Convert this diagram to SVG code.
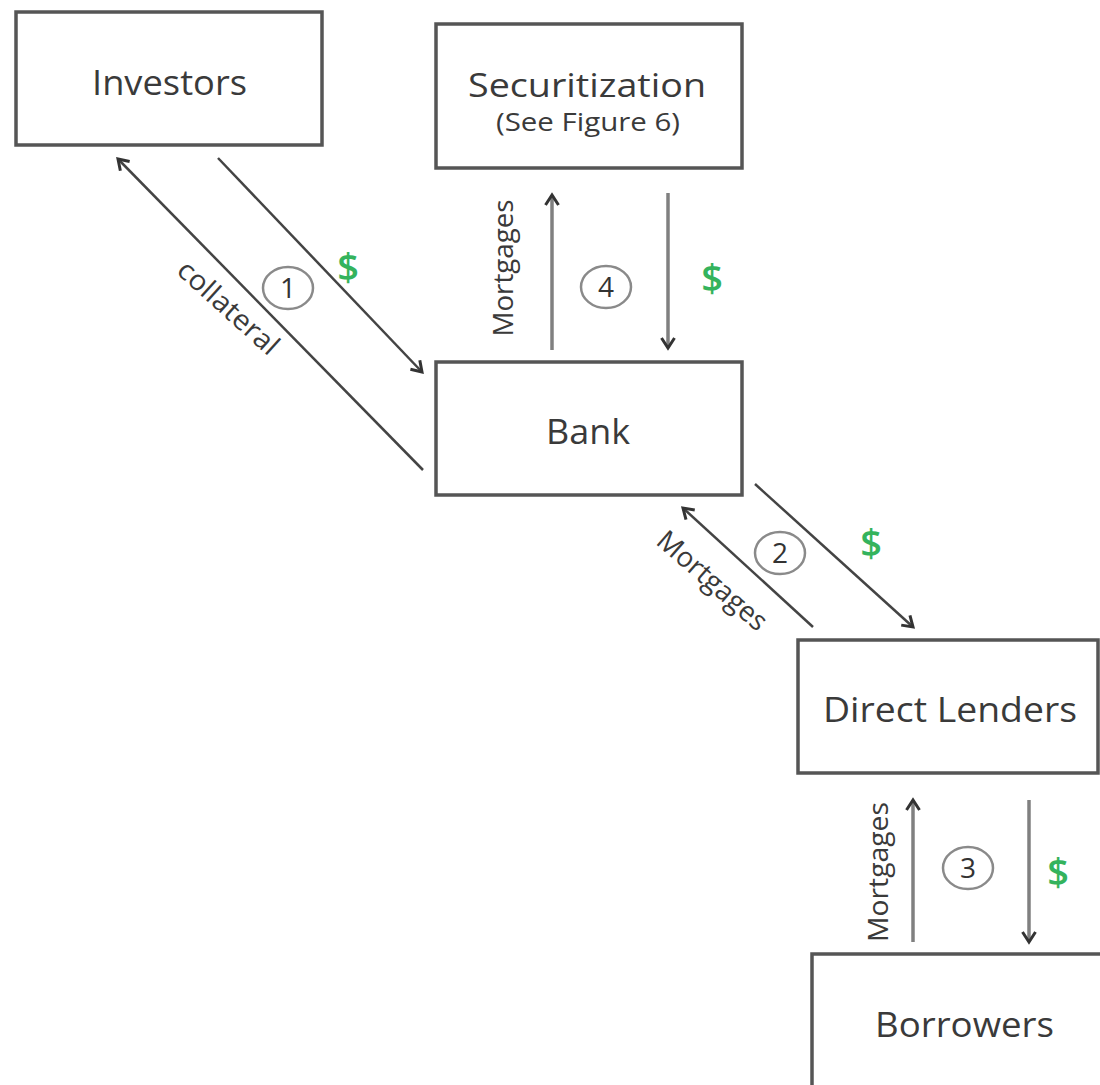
<svg xmlns="http://www.w3.org/2000/svg" width="1100" height="1085" viewBox="0 0 1100 1085">
<style>
.box{fill:#fff;stroke:#555;stroke-width:3.5}
.lbl{font-family:"Open Sans","Liberation Sans",sans-serif;fill:#3a3a3a;text-anchor:middle}
.main{font-size:34px}
.small{font-size:26px}
.side{font-size:28px}
.diag{stroke:#444;stroke-width:2.5;fill:none;marker-end:url(#ah)}
.vert{stroke:#808080;stroke-width:3.5;fill:none;marker-end:url(#ah)}
.circ{fill:none;stroke:#8a8a8a;stroke-width:2.5}
.num{font-family:"Open Sans","Liberation Sans",sans-serif;font-size:28px;fill:#333;text-anchor:middle}
.usd{font-family:"Open Sans","Liberation Sans",sans-serif;font-size:38px;font-weight:600;fill:#34b35d;text-anchor:middle}
</style>
<defs>
<marker id="ah" markerUnits="userSpaceOnUse" markerWidth="24" markerHeight="24" refX="14" refY="9" orient="auto">
<path d="M4,2.5 L14,9 L4,15.5" fill="none" stroke="#333" stroke-width="3"/>
</marker>
</defs>
<g id="investors"><rect class="box" x="16" y="12" width="306" height="133"/><text class="lbl main" x="169.5" y="95" textLength="155" lengthAdjust="spacingAndGlyphs">Investors</text></g>
<g id="securitization"><rect class="box" x="436" y="24" width="306" height="144"/><text class="lbl main" x="587" y="97" style="font-size:32px" textLength="238" lengthAdjust="spacingAndGlyphs">Securitization</text><text class="lbl small" x="588" y="131" textLength="184" lengthAdjust="spacingAndGlyphs">(See Figure 6)</text></g>
<g id="bank"><rect class="box" x="436" y="362" width="306" height="133"/><text class="lbl main" x="588" y="444" textLength="84" lengthAdjust="spacingAndGlyphs">Bank</text></g>
<g id="direct-lenders"><rect class="box" x="798" y="640" width="300" height="133"/><text class="lbl main" x="950" y="722" textLength="254" lengthAdjust="spacingAndGlyphs">Direct Lenders</text></g>
<g id="borrowers"><rect class="box" x="812" y="954" width="320" height="160"/><text class="lbl main" x="964.5" y="1037" textLength="179" lengthAdjust="spacingAndGlyphs">Borrowers</text></g>
<g id="connectors">
<line class="diag" x1="423" y1="470" x2="118" y2="159"/>
<line class="diag" x1="218" y1="158" x2="422" y2="372"/>
<line class="vert" x1="552" y1="350" x2="552" y2="195"/>
<line class="vert" x1="668" y1="193" x2="668" y2="348"/>
<line class="diag" x1="813" y1="627" x2="683" y2="508"/>
<line class="diag" x1="755" y1="484" x2="913" y2="627"/>
<line class="vert" x1="913" y1="942" x2="913" y2="800"/>
<line class="vert" x1="1029" y1="800" x2="1029" y2="942"/>
</g>
<g id="labels">
<text class="lbl side" transform="translate(228,308) rotate(42)" x="0" y="9" textLength="126" lengthAdjust="spacingAndGlyphs">collateral</text>
<text class="lbl side" transform="translate(503,268) rotate(-90)" x="0" y="10" textLength="137" lengthAdjust="spacingAndGlyphs">Mortgages</text>
<text class="lbl side" transform="translate(712,581) rotate(41)" x="0" y="9" textLength="136" lengthAdjust="spacingAndGlyphs">Mortgages</text>
<text class="lbl side" transform="translate(878,872) rotate(-90)" x="0" y="10" textLength="140" lengthAdjust="spacingAndGlyphs">Mortgages</text>
<ellipse class="circ" cx="288" cy="288" rx="25" ry="21"/><text class="num" x="288" y="298">1</text>
<ellipse class="circ" cx="606" cy="287" rx="25" ry="21"/><text class="num" x="606" y="297">4</text>
<ellipse class="circ" cx="780" cy="553" rx="25" ry="21"/><text class="num" x="780" y="563">2</text>
<ellipse class="circ" cx="968" cy="868" rx="25" ry="21"/><text class="num" x="968" y="878">3</text>
<text class="usd" x="348" y="281">$</text>
<text class="usd" x="712" y="292">$</text>
<text class="usd" x="871" y="557">$</text>
<text class="usd" x="1058" y="886">$</text>
</g>
</svg>
